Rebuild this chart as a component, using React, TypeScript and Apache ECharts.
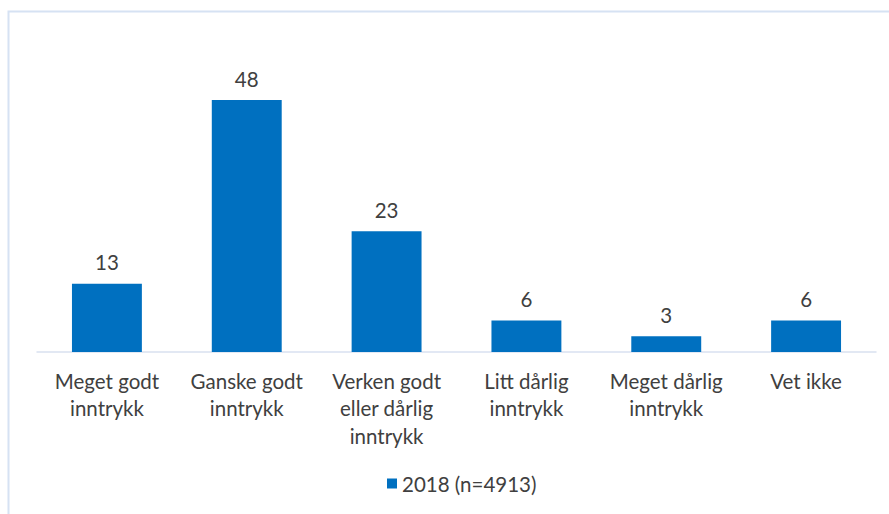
import React, { useEffect, useRef } from "react";
import * as echarts from "echarts";

const categories = [
  "Meget godt\ninntrykk",
  "Ganske godt\ninntrykk",
  "Verken godt\neller dårlig\ninntrykk",
  "Litt dårlig\ninntrykk",
  "Meget dårlig\ninntrykk",
  "Vet ikke",
];
const values2018 = [13, 48, 23, 6, 3, 6];
const seriesName = "2018 (n=4913)";

export default function App() {
  const ref = useRef<HTMLDivElement>(null);
  useEffect(() => {
    if (!ref.current) return;
    const chart = echarts.init(ref.current, undefined, { renderer: "svg" });
    const font = "Lato";
    chart.setOption({
      animation: false,
      backgroundColor: "#ffffff",
      graphic: [
        {
          type: "rect",
          shape: { x: 8.5, y: 11.5, width: 900, height: 520 },
          style: { fill: "none", stroke: "#D6E2F3", lineWidth: 2 },
          silent: true,
        },
      ],
      legend: {
        data: [seriesName],
        bottom: 15,
        left: 382,
        itemWidth: 10,
        itemHeight: 10,
        itemGap: 6,
        textStyle: { color: "#404040", fontSize: 20.5, fontFamily: font },
        icon: "rect",
      },
      grid: { left: 37, right: 13, top: 89.5, height: 262.5, containLabel: false },
      xAxis: {
        type: "category",
        data: categories,
        axisLine: { lineStyle: { color: "#D9E1F0", width: 1.5 } },
        axisTick: { show: false },
        axisLabel: {
          color: "#404040",
          fontSize: 20.5,
          fontFamily: font,
          lineHeight: 27.5,
          margin: 15,
          interval: 0,
        },
      },
      yAxis: {
        type: "value",
        min: 0,
        max: 50,
        show: false,
        splitLine: { show: false },
      },
      series: [
        {
          name: seriesName,
          type: "bar",
          data: values2018,
          barWidth: "50%",
          itemStyle: { color: "#0070C0" },
          label: {
            show: true,
            position: "top",
            distance: 11,
            color: "#404040",
            fontSize: 20.5,
            fontFamily: font,
          },
        },
      ],
    });
    return () => chart.dispose();
  }, []);
  return (
    <div
      ref={ref}
      style={{ position: "absolute", left: 0, top: 0, width: 889, height: 514 }}
    />
  );
}
